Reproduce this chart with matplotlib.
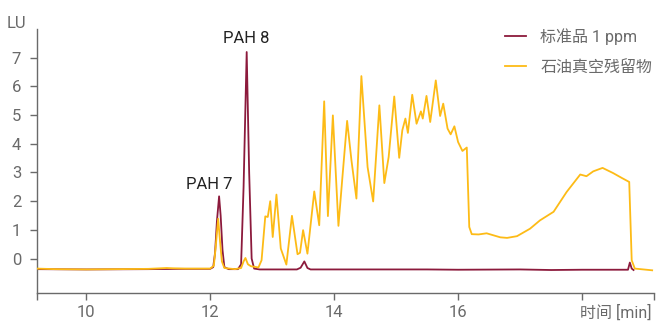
import matplotlib
matplotlib.use("Agg")
import matplotlib.pyplot as plt
from matplotlib.lines import Line2D
from matplotlib import font_manager

# Chromatogram traces: retention time [min] and fluorescence response [LU]
std_time = [9.2, 10.0, 11.0, 11.5, 12.0, 12.05, 12.08, 12.11, 12.145, 12.17, 12.20, 12.23,
            12.30, 12.45, 12.50, 12.54, 12.59, 12.63, 12.67, 12.71, 12.80, 13.40, 13.46,
            13.52, 13.57, 13.62, 14.5, 15.5, 16.0, 17.0, 17.5, 18.0, 18.74, 18.77, 18.80, 18.83]
std_signal = [-0.37, -0.38, -0.37, -0.36, -0.36, -0.30, 0.2, 1.3, 2.17, 1.5, 0.3, -0.3,
              -0.37, -0.37, -0.2, 2.5, 7.2, 3.0, 0.0, -0.35, -0.38, -0.38, -0.32,
              -0.10, -0.33, -0.38, -0.38, -0.38, -0.39, -0.38, -0.40, -0.39, -0.39, -0.14, -0.35, -0.40]

res_time = [9.2, 9.5, 10.0, 10.5, 11.0, 11.3, 11.4, 11.6, 12.0, 12.06, 12.09, 12.13, 12.16,
            12.19, 12.23, 12.40, 12.50, 12.54, 12.57, 12.61, 12.66, 12.72, 12.78, 12.83,
            12.89, 12.93, 12.97, 13.01, 13.07, 13.14, 13.23, 13.32, 13.41, 13.45, 13.50,
            13.57, 13.68, 13.76, 13.84, 13.90, 13.98, 14.07, 14.13, 14.21, 14.28, 14.36,
            14.44, 14.54, 14.63, 14.73, 14.81, 14.88, 14.97, 15.05, 15.10, 15.15, 15.19,
            15.26, 15.33, 15.40, 15.43, 15.49, 15.55, 15.64, 15.71, 15.76, 15.83, 15.88,
            15.94, 16.00, 16.07, 16.14, 16.18, 16.22, 16.33, 16.46, 16.68, 16.79, 16.95,
            17.16, 17.32, 17.54, 17.75, 17.97, 18.07, 18.18, 18.33, 18.50, 18.64, 18.76,
            18.80, 18.85, 19.13]
res_signal = [-0.35, -0.37, -0.38, -0.37, -0.36, -0.33, -0.34, -0.35, -0.35, -0.25, 0.4, 1.39, 0.6,
              -0.1, -0.33, -0.37, -0.33, -0.1, 0.02, -0.2, -0.27, -0.29, -0.31, -0.06,
              1.47, 1.45, 2.0, 0.75, 2.23, 0.35, -0.21, 1.49, 0.15, 0.2, 0.99,
              0.17, 2.34, 1.16, 5.48, 1.48, 4.99, 1.14, 2.73, 4.8, 3.42, 2.09,
              6.36, 3.19, 1.99, 5.34, 2.63, 3.54, 5.65, 3.51, 4.47, 4.88, 4.38,
              5.71, 4.70, 5.13, 4.88, 5.67, 4.76, 6.21, 4.97, 5.40, 4.53, 4.33,
              4.61, 4.06, 3.75, 3.87, 1.10, 0.85, 0.84, 0.88, 0.74, 0.72, 0.78,
              1.04, 1.33, 1.63, 2.32, 2.93, 2.87, 3.04, 3.16, 2.98, 2.81, 2.67,
              -0.06, -0.35, -0.41]

series_labels = ["标准品 1 ppm", "石油真空残留物"]
peak_names = ["PAH 7", "PAH 8"]
peak_times = [12.145, 12.59]
peak_heights = [2.17, 7.2]
x_ticks = [10, 12, 14, 16, 18]
x_tick_labels = ["10", "12", "14", "16", ""]
y_ticks = [0, 1, 2, 3, 4, 5, 6, 7]

RED = "#8C1A3C"
GOLD = "#FDBB16"
GRAY = "#6A6A6A"

installed = {f.name for f in font_manager.fontManager.ttflist}
base = [f for f in ["Liberation Sans Narrow", "Roboto", "DejaVu Sans"] if f in installed]
plt.rcParams["font.family"] = base + ["Noto Sans CJK SC"]

fig = plt.figure(figsize=(6.71, 3.23), dpi=100)
ax = fig.add_axes([0.0544, 0.093, 0.9203, 0.817])

ax.plot(std_time, std_signal, color=RED, lw=1.3, zorder=2, solid_joinstyle="round")
ax.plot(res_time, res_signal, color=GOLD, lw=1.3, zorder=3, solid_joinstyle="round")

ax.set_xlim(9.2, 19.16)
ax.set_ylim(-1.2, 8.0)

for side in ("top", "right"):
    ax.spines[side].set_visible(False)
for side in ("left", "bottom"):
    ax.spines[side].set_color(GRAY)
    ax.spines[side].set_linewidth(1.0)

ax.set_xticks(x_ticks)
ax.set_xticklabels(x_tick_labels)
ax.set_xticks([9.2, 19.16], minor=True)
ax.set_yticks(y_ticks)
ax.tick_params(axis="both", which="both", direction="out", length=5, width=1.0,
               color=GRAY, labelcolor=GRAY, labelsize=12)
ax.tick_params(axis="x", pad=4)
ax.tick_params(axis="y", pad=6)

fig.text(16 / 671, 1 - 23 / 323, "LU", color=GRAY, fontsize=12, ha="center", va="center")
fig.text(616 / 671, 1 - 313 / 323, "时间 [min]", color=GRAY, fontsize=11.5,
         ha="center", va="center")

# Peak labels above the standard's peaks
offsets = [0.42, 0.48]
for name, t, h, off in zip(peak_names, peak_times, peak_heights, offsets):
    ax.text(t - (0.16 if name == "PAH 7" else 0.0), h + off, name, color="#222222",
            fontsize=12, ha="center", va="center")

handles = [Line2D([], [], color=RED, lw=1.3), Line2D([], [], color=GOLD, lw=1.3)]
fig.legend(handles, series_labels, loc="upper left", bbox_to_anchor=(505 / 671, 1 - 28 / 323),
           frameon=False, fontsize=11.5, labelcolor=GRAY, handlelength=1.3,
           handletextpad=0.9, labelspacing=0.95, borderaxespad=0, borderpad=0)

fig.savefig("out.png", dpi=100)
